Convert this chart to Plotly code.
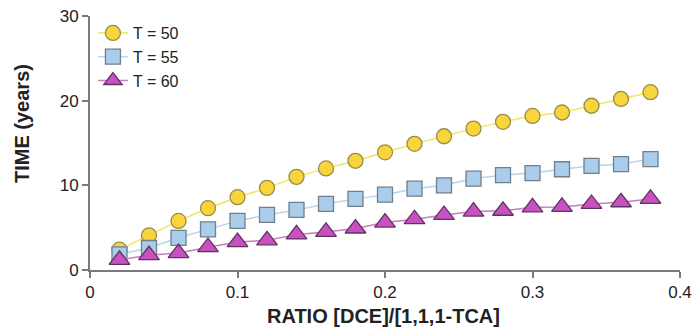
import plotly.graph_objects as go

ratio = [0.02, 0.04, 0.06, 0.08, 0.10, 0.12, 0.14, 0.16, 0.18, 0.20,
         0.22, 0.24, 0.26, 0.28, 0.30, 0.32, 0.34, 0.36, 0.38]
t50 = [2.4, 4.1, 5.8, 7.3, 8.6, 9.7, 11.0, 12.0, 12.9, 13.9,
       14.9, 15.8, 16.7, 17.5, 18.2, 18.6, 19.4, 20.2, 21.0]
t55 = [1.85, 2.6, 3.8, 4.8, 5.8, 6.5, 7.1, 7.8, 8.4, 8.9,
       9.6, 10.0, 10.8, 11.2, 11.45, 11.9, 12.3, 12.5, 13.1]
t60 = [1.2, 1.75, 2.0, 2.7, 3.3, 3.5, 4.2, 4.5, 4.9, 5.6,
       6.0, 6.5, 6.9, 7.0, 7.4, 7.45, 7.8, 8.0, 8.4]
names = ["T = 50", "T = 55", "T = 60"]
x_ticks = [0, 0.1, 0.2, 0.3, 0.4]
x_tick_text = ["0", "0.1", "0.2", "0.3", "0.4"]
y_ticks = [0, 10, 20, 30]

FONT = "Liberation Sans, Arial, sans-serif"

styles = [
    dict(symbol="circle", size=15, fill="#F8D53A", edge="#9A8B4A", line="#F0E660"),
    dict(symbol="square", size=15, fill="#AACDEB", edge="#6F7F8C", line="#BBD4E8"),
    dict(symbol="triangle-up", size=18, fill="#C850C0", edge="#5E3460", line="#C87CC0"),
]

fig = go.Figure()
for ys, nm, st in zip([t50, t55, t60], names, styles):
    fig.add_trace(go.Scatter(
        x=ratio, y=ys, name=nm, mode="lines+markers",
        line=dict(color=st["line"], width=1.5),
        marker=dict(symbol=st["symbol"], size=st["size"], color=st["fill"],
                    line=dict(color=st["edge"], width=1.3)),
        cliponaxis=False,
    ))

axis_common = dict(showgrid=False, zeroline=False, showline=True, automargin=False,
                   linecolor="#7a7a7a", linewidth=2, ticks="outside",
                   ticklen=6, tickwidth=1.5, tickcolor="#7a7a7a",
                   ticklabeloverflow="allow",
                   tickfont=dict(family=FONT, size=17, color="#222"))

fig.update_layout(
    width=695, height=330,
    margin=dict(l=90, r=15, t=16, b=60),
    paper_bgcolor="white", plot_bgcolor="white",
    font=dict(family=FONT, color="#222"),
    showlegend=True,
    legend=dict(x=0.005, y=1.0, xanchor="left", yanchor="top",
                bgcolor="rgba(255,255,255,0)", font=dict(family=FONT, size=16, color="#222"),
                tracegroupgap=0, itemwidth=30),
    xaxis=dict(range=[0, 0.4], tickvals=x_ticks, ticktext=x_tick_text, **axis_common),
    yaxis=dict(range=[0, 30], tickvals=y_ticks, **axis_common),
    annotations=[
        dict(text="<b>RATIO [DCE]/[1,1,1-TCA]</b>", xref="paper", yref="paper",
             x=(383 - 90) / 590, y=-(316 - 270) / 254, xanchor="center", yanchor="middle",
             showarrow=False, font=dict(family=FONT, size=20, color="#222")),
        dict(text="<b>TIME (years)</b>", xref="paper", yref="paper",
             x=-(90 - 22) / 590, y=(270 - 124) / 254, xanchor="center", yanchor="middle",
             textangle=-90, showarrow=False, font=dict(family=FONT, size=20, color="#222")),
    ],
)

fig.write_html(
    "out.html",
    config={"displayModeBar": False},
    post_script="document.body.style.margin='0';document.body.style.overflow='hidden';",
)
